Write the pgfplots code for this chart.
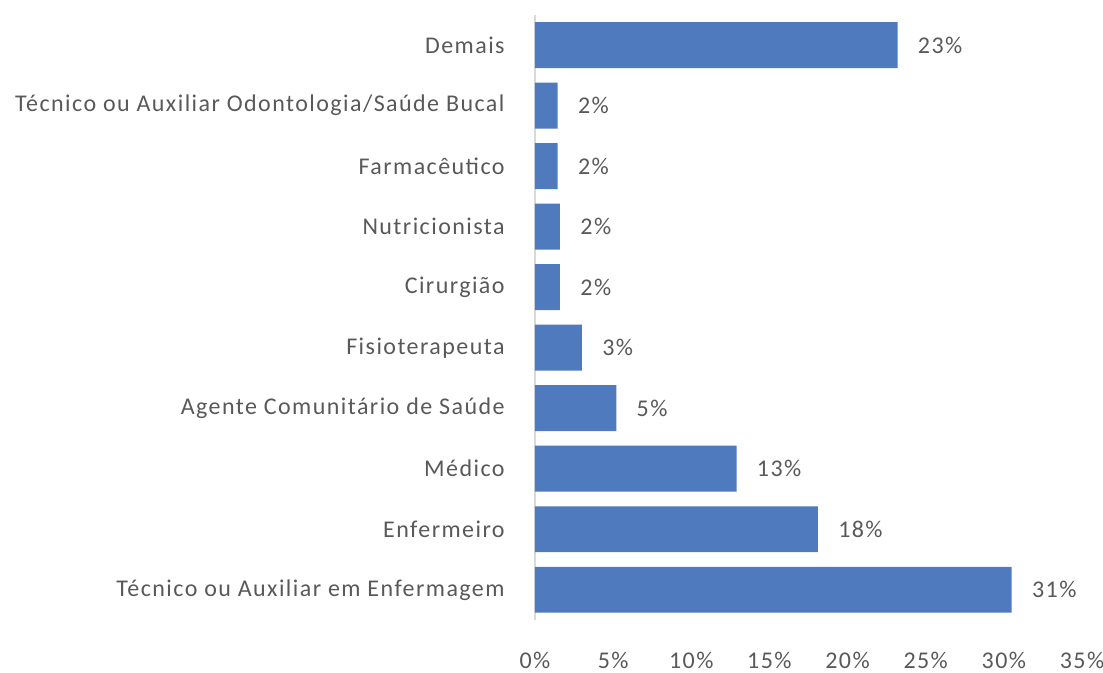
\documentclass[border=0pt]{standalone}
\usepackage{fontspec}
\setmainfont{Carlito}[LetterSpace=6]
\usepackage{pgfplots}
\pgfplotsset{compat=1.18}
\definecolor{barblue}{RGB}{79,123,190}
\definecolor{txtgray}{RGB}{89,89,89}
\definecolor{axgray}{RGB}{217,217,217}
\begin{document}
\fontsize{12pt}{14pt}\selectfont
\begin{tikzpicture}
\useasboundingbox (-267.5pt,-26.5pt) rectangle (284pt,310pt);
\begin{axis}[
  name=ax,
  at={(0,0)}, anchor=south west,
  scale only axis,
  width=273.5pt, height=302.5pt,
  xbar,
  xmin=0, xmax=35,
  ymin=-0.5, ymax=9.5,
  bar width=0.76,
  xtick={0,5,...,35},
  xticklabel={\pgfmathprintnumber{\tick}\%},
  /pgf/number format/assume math mode=true,
  ytick={0,...,9},
  yticklabels={Técnico ou Auxiliar em Enfermagem, Enfermeiro, Médico, Agente Comunitário de Saúde, Fisioterapeuta, Cirurgião, Nutricionista, Farmacêutico, Técnico ou Auxiliar Odontologia/Saúde Bucal, Demais},
  major tick length=0pt,
  axis x line*=bottom,
  axis y line*=left,
  x axis line style={draw=none},
  y axis line style={draw=axgray, line width=0.8pt},
  tick label style={font=\fontsize{12pt}{14pt}\selectfont, text=txtgray},
  xticklabel style={yshift=-12pt},
  yticklabel style={xshift=-11pt},
  point meta=explicit symbolic,
  nodes near coords,
  every node near coord/.append style={font=\fontsize{12pt}{14pt}\selectfont, text=txtgray, anchor=west, xshift=6pt},
  clip=false,
]
\addplot[fill=barblue, draw=none] coordinates {
  (30.5,0) [31\%]
  (18.1,1) [18\%]
  (12.9,2) [13\%]
  (5.2,3) [5\%]
  (3.0,4) [3\%]
  (1.6,5) [2\%]
  (1.6,6) [2\%]
  (1.45,7) [2\%]
  (1.45,8) [2\%]
  (23.2,9) [23\%]
};
\end{axis}
\end{tikzpicture}
\end{document}
